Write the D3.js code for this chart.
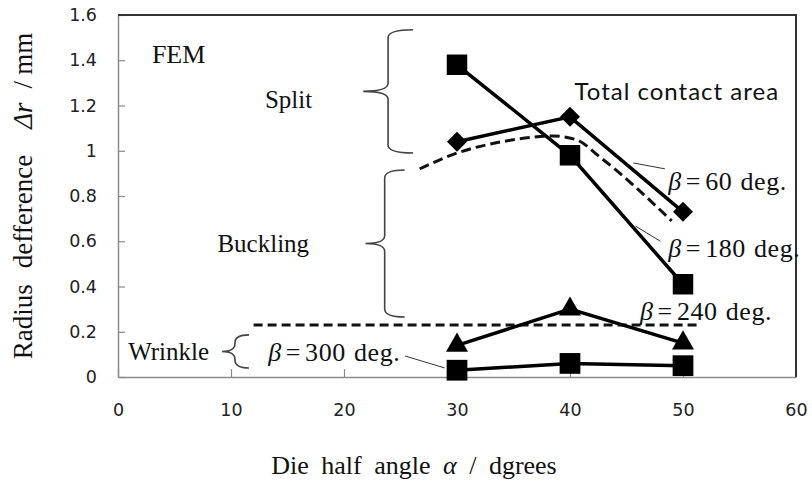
<!DOCTYPE html>
<html>
<head>
<meta charset="utf-8">
<script src="https://cdn.jsdelivr.net/npm/d3@7/dist/d3.min.js"></script>
<style>
  body { margin: 0; background: #fff; }
</style>
</head>
<body>
<div id="chart"></div>
<script>
// die half angle (deg) of the FEM runs
const alphaDeg = [30, 40, 50];
// radius difference (mm) for each beta
const beta60 = [1.04, 1.15, 0.73];
const beta180 = [1.38, 0.98, 0.41];
const beta240 = [0.14, 0.30, 0.15];
const beta300 = [0.03, 0.06, 0.05];
// total contact area curve (dashed)
const contactAlpha = [26.7, 30, 34, 38.5, 40.5, 42.7, 49];
const contactDr = [0.92, 0.99, 1.04, 1.065, 1.05, 0.97, 0.69];
// wrinkle limit (dashed horizontal)
const limitAlpha = [12, 51.2];
const limitDr = [0.23, 0.23];

const xTicks = [0, 10, 20, 30, 40, 50, 60];
const yTicks = [0, 0.2, 0.4, 0.6, 0.8, 1, 1.2, 1.4, 1.6];

const width = 812, height = 482;
const margin = {top: 15, right: 16, bottom: 105, left: 118};

const svg = d3.select('#chart').append('svg')
  .attr('width', width)
  .attr('height', height);

const x = d3.scaleLinear().domain([0, 60]).range([margin.left, width - margin.right]);
const y = d3.scaleLinear().domain([0, 1.6]).range([height - margin.bottom, margin.top]);

const serif = '"Liberation Serif", "Times New Roman", serif';
const sans = '"DejaVu Sans", sans-serif';

// axes, ticks pointing inward
const xAxis = svg.append('g')
  .attr('transform', `translate(0,${y(0)})`)
  .call(d3.axisBottom(x).tickValues(xTicks).tickSizeInner(-8).tickSizeOuter(0).tickPadding(27));
const yAxis = svg.append('g')
  .attr('transform', `translate(${x(0)},0)`)
  .call(d3.axisLeft(y).tickValues(yTicks).tickSizeInner(-7).tickSizeOuter(0).tickPadding(21)
    .tickFormat(d => String(+d.toFixed(1))));

[xAxis, yAxis].forEach(g => {
  g.select('.domain').attr('stroke', '#8a8a8a').attr('stroke-width', 1.5);
  g.selectAll('.tick line').attr('stroke', '#8a8a8a').attr('stroke-width', 1.2);
  g.selectAll('.tick text')
    .attr('fill', '#222')
    .style('font-family', sans)
    .style('font-size', '17.5px');
});

// top and right frame
svg.append('path')
  .attr('d', `M${x(0)},${y(1.6)}H${x(60)}V${y(0)}`)
  .attr('fill', 'none')
  .attr('stroke', '#333')
  .attr('stroke-width', 2);

// axis titles
const yTitle = svg.append('text')
  .attr('transform', `translate(32,${(y(0) + y(1.6)) / 2}) rotate(-90)`)
  .attr('text-anchor', 'middle')
  .style('font-family', serif)
  .style('font-size', '27px')
  .attr('fill', '#111');
yTitle.append('tspan').text('Radius');
yTitle.append('tspan').attr('dx', 16).text('defference');
yTitle.append('tspan').attr('dx', 26).style('font-style', 'italic').text('Δr');
yTitle.append('tspan').attr('dx', 14).text('/');
yTitle.append('tspan').attr('dx', 6).text('mm');

const xTitle = svg.append('text')
  .attr('x', 414)
  .attr('y', 474)
  .attr('text-anchor', 'middle')
  .style('font-family', serif)
  .style('font-size', '26px')
  .style('word-spacing', '6px')
  .attr('fill', '#111');
xTitle.append('tspan').text('Die half angle  ');
xTitle.append('tspan').style('font-style', 'italic').text('α');
xTitle.append('tspan').text(' / dgrees');

// dashed reference curves
const line = d3.line().x(d => x(d[0])).y(d => y(d[1]));

svg.append('path')
  .datum(limitAlpha.map((a, i) => [a, limitDr[i]]))
  .attr('d', line)
  .attr('fill', 'none')
  .attr('stroke', '#111')
  .attr('stroke-width', 3)
  .attr('stroke-dasharray', '9,5');

svg.append('path')
  .datum(contactAlpha.map((a, i) => [a, contactDr[i]]))
  .attr('d', line.curve(d3.curveMonotoneX))
  .attr('fill', 'none')
  .attr('stroke', '#111')
  .attr('stroke-width', 3)
  .attr('stroke-dasharray', '10,5');
line.curve(d3.curveLinear);

// series
const series = [
  {name: '60', values: beta60, symbol: d3.symbolSquare, size: 200, rotate: 45},
  {name: '180', values: beta180, symbol: d3.symbolSquare, size: 420, rotate: 0},
  {name: '240', values: beta240, symbol: d3.symbolTriangle, size: 210, rotate: 0},
  {name: '300', values: beta300, symbol: d3.symbolSquare, size: 430, rotate: 0}
];

series.forEach(s => {
  const pts = alphaDeg.map((a, i) => [a, s.values[i]]);
  svg.append('path')
    .datum(pts)
    .attr('d', line)
    .attr('fill', 'none')
    .attr('stroke', '#000')
    .attr('stroke-width', 3.5);
});

series.forEach(s => {
  const pts = alphaDeg.map((a, i) => [a, s.values[i]]);
  svg.append('g').selectAll('path')
    .data(pts)
    .enter().append('path')
      .attr('transform', d => `translate(${x(d[0])},${y(d[1])}) rotate(${s.rotate})`)
      .attr('d', d3.symbol(s.symbol, s.size))
      .attr('fill', '#000');
});

// braces
function brace(bx, y0, y1, tip, hook, r) {
  const ym = (y0 + y1) / 2;
  return `M${bx + hook},${y0} Q${bx},${y0} ${bx},${y0 + r} L${bx},${ym - r} ` +
    `Q${bx},${ym} ${tip},${ym} Q${bx},${ym} ${bx},${ym + r} ` +
    `L${bx},${y1 - r} Q${bx},${y1} ${bx + hook},${y1}`;
}
[
  [23.9, 1.535, 0.99, 21.7, 25],
  [23.6, 0.915, 0.265, 21.9, 20],
  [10.35, 0.186, 0.04, 9.2, 14]
].forEach(b => {
  svg.append('path')
    .attr('d', brace(x(b[0]), y(b[1]), y(b[2]), x(b[3]), b[4], 8))
    .attr('fill', 'none')
    .attr('stroke', '#444')
    .attr('stroke-width', 1.6);
});

// leader lines
[
  [45.6, 0.946, 48.4, 0.92],
  [45.8, 0.667, 48.0, 0.6],
  [25.4, 0.093, 28.9, 0.04]
].forEach(l => {
  svg.append('line')
    .attr('x1', x(l[0])).attr('y1', y(l[1]))
    .attr('x2', x(l[2])).attr('y2', y(l[3]))
    .attr('stroke', '#333')
    .attr('stroke-width', 1);
});

// labels
function label(a, d, text, font, size) {
  return svg.append('text')
    .attr('x', x(a)).attr('y', y(d))
    .style('font-family', font)
    .style('font-size', size + 'px')
    .attr('fill', '#111')
    .text(text);
}
label(3.0, 1.388, 'FEM', serif, 26);
label(13.0, 1.189, 'Split', serif, 25);
label(8.8, 0.552, 'Buckling', serif, 25);
label(0.9, 0.075, 'Wrinkle', serif, 25);
label(40.4, 1.224, 'Total contact area', 'Lato, sans-serif', 24)
  .style('letter-spacing', '1px');

function betaLabel(a, d, deg) {
  const t = svg.append('text')
    .attr('x', x(a)).attr('y', y(d))
    .style('font-family', serif)
    .style('font-size', '26px')
    .style('letter-spacing', '0.6px')
    .style('word-spacing', '1px')
    .attr('fill', '#111');
  t.append('tspan').style('font-style', 'italic').text('β');
  t.append('tspan').attr('dx', 4).text('=');
  t.append('tspan').attr('dx', 4).text(deg + ' deg.');
}
betaLabel(48.7, 0.826, '60');
betaLabel(48.7, 0.53, '180');
betaLabel(46.2, 0.252, '240');
betaLabel(13.3, 0.071, '300');
</script>
</body>
</html>
